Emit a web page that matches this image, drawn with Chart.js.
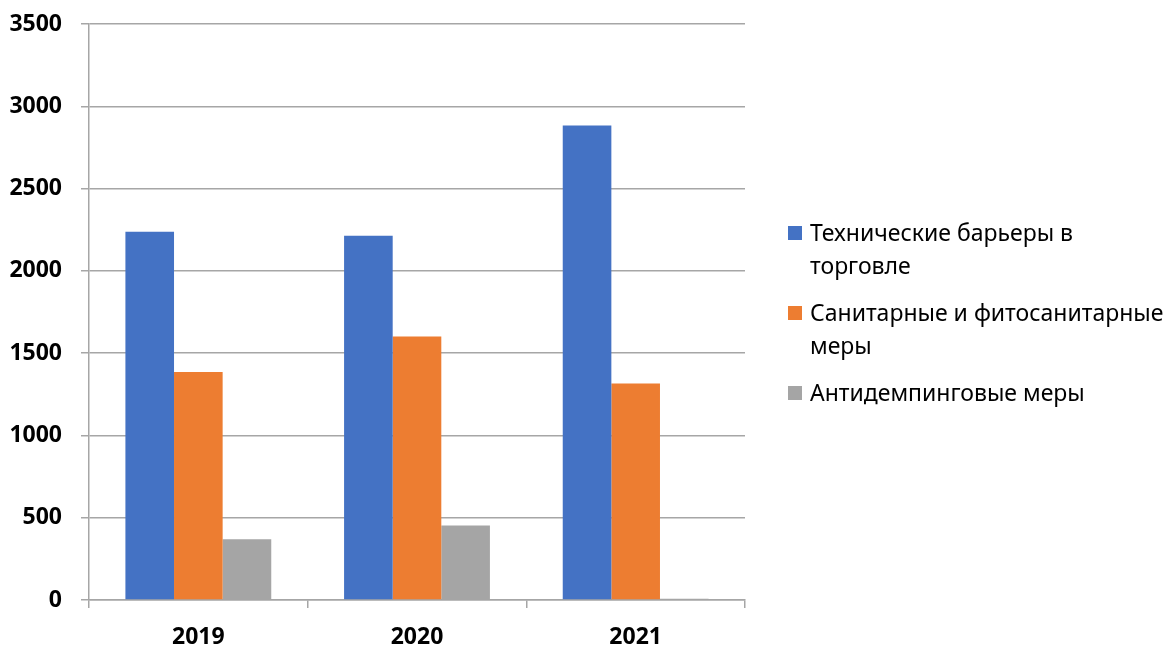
<!DOCTYPE html>
<html>
<head>
<meta charset="utf-8">
<script src="https://cdn.jsdelivr.net/npm/chart.js@4"></script>
<style>
    html, body { margin: 0; padding: 0; background: #fff; }
    #wrap { position: relative; width: 1166px; height: 646px; }
    #legend {
        position: absolute; left: 788px; top: 216px;
        font-family: 'Noto Sans', sans-serif; font-size: 23px; line-height: 33px; color: #000;
    }
    .item { position: relative; padding-left: 22px; margin-bottom: 14px; white-space: nowrap; }
    .box { position: absolute; left: 0; top: 10px; width: 14px; height: 14px; }
</style>
</head>
<body>
<div id="wrap"><canvas id="chart"></canvas><div id="legend"></div></div>
<script>
const years = ["2019", "2020", "2021"];
const technical = [2238, 2214, 2883];
const sanitary = [1386, 1601, 1315];
const antidumping = [369, 452, 7];
const seriesNames = [
    ["Технические барьеры в", "торговле"],
    ["Санитарные и фитосанитарные", "меры"],
    ["Антидемпинговые меры"],
];
const seriesColors = ["#4472c4", "#ed7d31", "#a5a5a5"];
const yTicks = [0, 500, 1000, 1500, 2000, 2500, 3000, 3500];

const gridColor = "#a6a6a6";
const tickFont = { family: "'Noto Sans', sans-serif", size: 23, weight: "bold" };

const chart = new Chart(document.getElementById("chart"), {
    type: "bar",
    data: {
        labels: years,
        datasets: [
            { label: seriesNames[0].join(" "), data: technical, backgroundColor: seriesColors[0] },
            { label: seriesNames[1].join(" "), data: sanitary, backgroundColor: seriesColors[1] },
            { label: seriesNames[2].join(" "), data: antidumping, backgroundColor: seriesColors[2] },
        ],
    },
    options: {
        responsive: true,
        maintainAspectRatio: false,
        animation: false,
        categoryPercentage: 0.667,
        barPercentage: 1,
        layout: { padding: { top: 24, left: 0, right: 421, bottom: 0 } },
        plugins: {
            tooltip: { enabled: false },
            legend: { display: false },
        },
        scales: {
            x: {
                grid: {
                    drawOnChartArea: false,
                    drawTicks: true,
                    tickLength: 8,
                    color: gridColor,
                    lineWidth: 1.5,
                },
                border: { color: gridColor, width: 1.5 },
                ticks: { color: "#000", font: tickFont, padding: 16 },
                afterFit: (scale) => { scale.height = 46; },
            },
            y: {
                min: 0,
                max: 3500,
                afterBuildTicks: (scale) => { scale.ticks = yTicks.map((v) => ({ value: v })); },
                grid: { color: gridColor, lineWidth: 1.5, tickLength: 8 },
                border: { color: gridColor, width: 1.5 },
                ticks: { color: "#000", font: tickFont, padding: 19, callback: (v) => String(v) },
                afterFit: (scale) => {
                    scale.width = 89;
                    scale.paddingTop = 0;
                },
            },
        },
    },
});

// legend built from the same series, wrapped like the original
const legend = document.getElementById("legend");
chart.data.datasets.forEach((ds, i) => {
    const item = document.createElement("div");
    item.className = "item";
    const box = document.createElement("span");
    box.className = "box";
    box.style.background = seriesColors[i];
    item.appendChild(box);
    seriesNames[i].forEach((line, j) => {
        if (j > 0) item.appendChild(document.createElement("br"));
        item.appendChild(document.createTextNode(line));
    });
    legend.appendChild(item);
});
</script>
</body>
</html>
